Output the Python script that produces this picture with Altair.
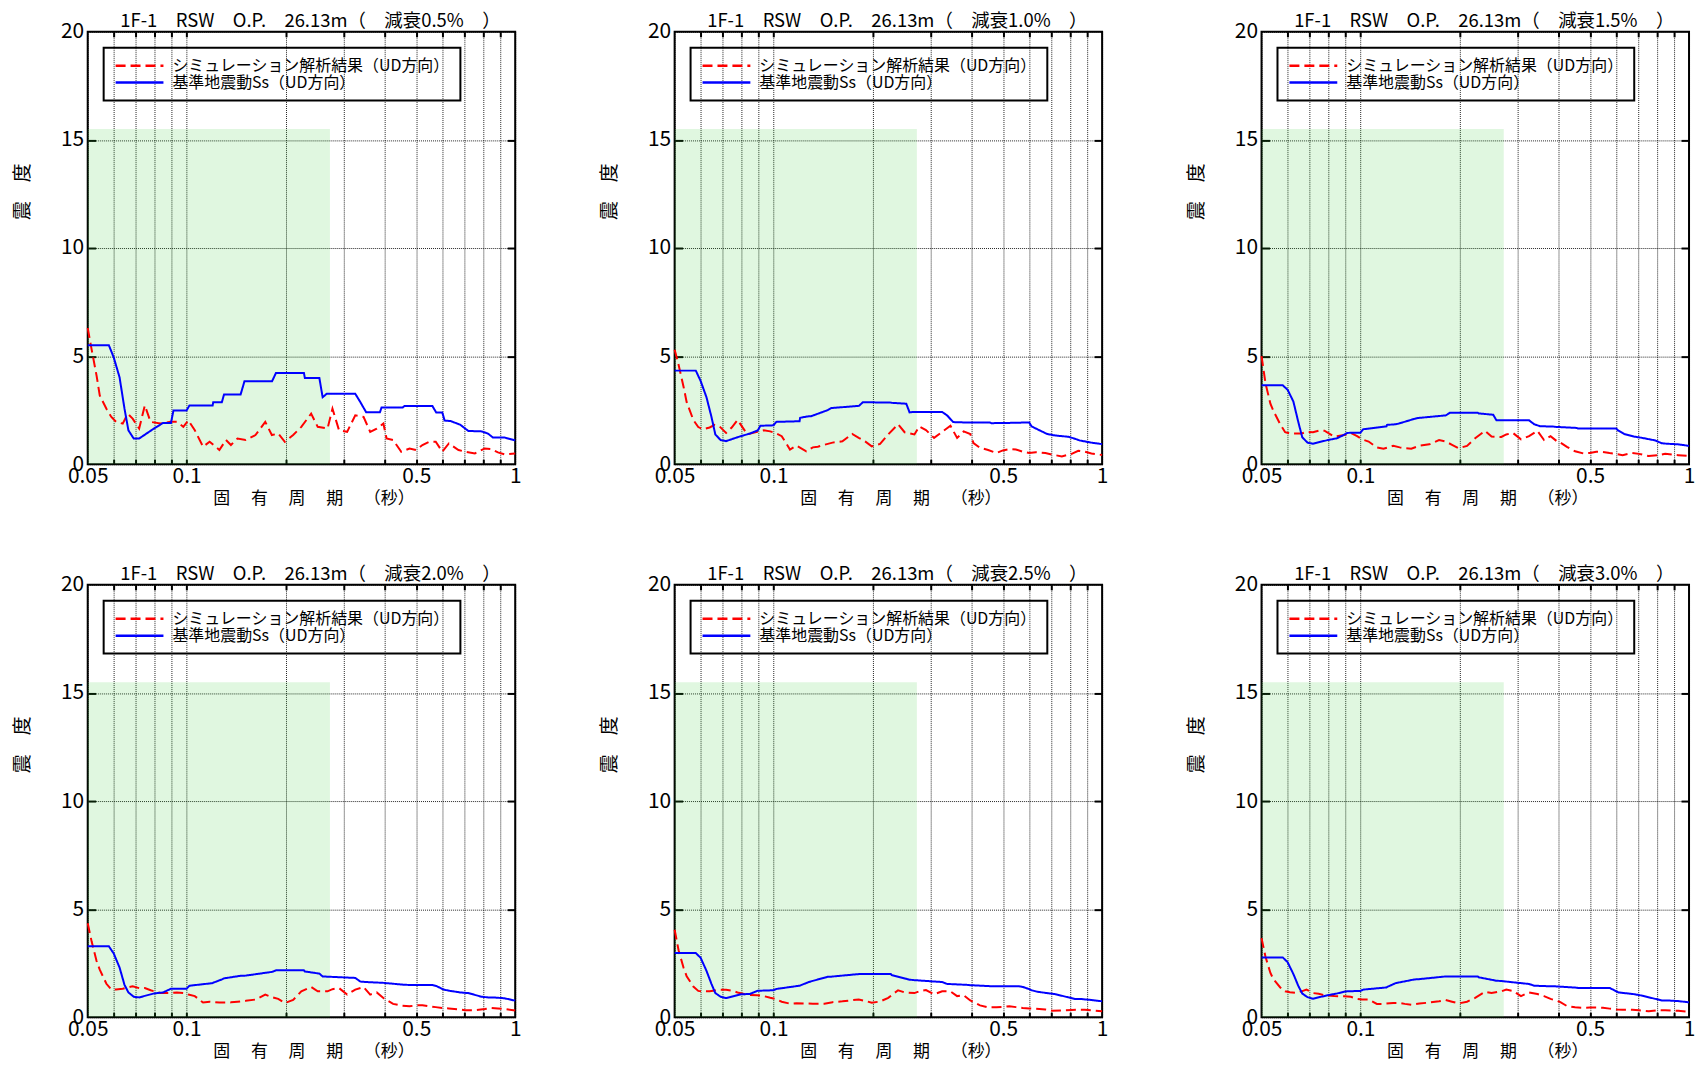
import altair as alt
import pandas as pd

FONT = "Noto Sans CJK JP"

# ---------------- text ----------------
damping = ["0.5", "1.0", "1.5", "2.0", "2.5", "3.0"]
panel_titles = ["1F-1　RSW　O.P.　26.13m（　減衰" + d + "%　）" for d in damping]
SIM = "シミュレーション解析結果（UD方向）"
SS = "基準地震動Ss（UD方向）"
x_title = "固　 有　 周　 期　 （秒）"
y_title = "震　度"

# ---------------- axes ----------------
x_grid_values = [0.05, 0.06, 0.07, 0.08, 0.09, 0.1, 0.2, 0.3, 0.4, 0.5,
                 0.6, 0.7, 0.8, 0.9, 1.0]
x_inner_ticks = [0.06, 0.07, 0.08, 0.09, 0.1, 0.2, 0.3, 0.4, 0.5,
                 0.6, 0.7, 0.8, 0.9]
x_label_values = [0.05, 0.1, 0.5, 1.0]
x_label_texts = ["0.05", "0.1", "0.5", "1"]
y_grid_values = [0, 5, 10, 15, 20]
y_inner_ticks = [5, 10, 15]

# shaded period band (green)
band_x0 = [0.05]
band_x1 = [0.273]
band_y0 = [0]
band_y1 = [15.5]

# ---------------- data ----------------
# 基準地震動Ss (blue)
blue_periods = [0.050, 0.058, 0.060, 0.0625, 0.0647, 0.0665, 0.069, 0.0717,
                0.0795, 0.0848, 0.0896, 0.0912, 0.100, 0.102, 0.120, 0.1205,
                0.128, 0.130, 0.146, 0.150, 0.182, 0.187, 0.2275, 0.229,
                0.2535, 0.2594, 0.267, 0.326, 0.338, 0.352, 0.3875, 0.392,
                0.455, 0.46, 0.56, 0.575, 0.60, 0.61, 0.635, 0.68, 0.72,
                0.79, 0.826, 0.855, 0.927, 1.0]
blue_h05 = [5.5, 5.5, 4.94, 4.02, 2.57, 1.57, 1.19, 1.19, 1.65, 1.91, 1.91,
            2.49, 2.49, 2.72, 2.72, 2.87, 2.87, 3.23, 3.23, 3.84, 3.84, 4.22,
            4.22, 3.99, 3.99, 3.10, 3.26, 3.26, 2.87, 2.40, 2.40, 2.63, 2.63,
            2.69, 2.69, 2.39, 2.39, 2.02, 2.0, 1.83, 1.54, 1.52, 1.42, 1.24,
            1.24, 1.10]
blue_h10 = [4.33, 4.33, 3.85, 3.1, 2.2, 1.38, 1.12, 1.07, 1.30, 1.42, 1.57,
            1.78, 1.80, 1.96, 1.99, 2.15, 2.22, 2.22, 2.50, 2.60, 2.70, 2.87,
            2.85, 2.84, 2.80, 2.40, 2.42, 2.42, 2.25, 1.95, 1.93, 1.93, 1.93,
            1.90, 1.92, 1.93, 1.93, 1.75, 1.62, 1.40, 1.33, 1.27, 1.18, 1.10,
            1.00, 0.93]
blue_h15 = [3.65, 3.65, 3.45, 2.9, 1.95, 1.25, 1.0, 0.95, 1.12, 1.2, 1.38,
            1.45, 1.46, 1.62, 1.75, 1.82, 1.85, 1.87, 2.10, 2.14, 2.26, 2.38,
            2.38, 2.35, 2.29, 2.03, 2.03, 2.03, 1.85, 1.76, 1.74, 1.73, 1.68,
            1.65, 1.65, 1.65, 1.65, 1.55, 1.40, 1.28, 1.22, 1.10, 0.97, 0.95,
            0.92, 0.85]
blue_h20 = [3.28, 3.28, 2.95, 2.3, 1.5, 1.15, 0.95, 0.92, 1.10, 1.15, 1.32,
            1.32, 1.32, 1.46, 1.58, 1.6, 1.75, 1.8, 1.92, 1.92, 2.1, 2.17,
            2.17, 2.12, 2.02, 1.89, 1.88, 1.82, 1.65, 1.63, 1.6, 1.6, 1.51,
            1.50, 1.49, 1.45, 1.31, 1.27, 1.22, 1.15, 1.12, 0.95, 0.92, 0.92,
            0.88, 0.77]
blue_h25 = [2.97, 2.97, 2.75, 2.15, 1.55, 1.12, 0.95, 0.89, 1.06, 1.08, 1.23,
            1.23, 1.25, 1.31, 1.46, 1.47, 1.63, 1.66, 1.87, 1.88, 2.0, 2.0,
            2.0, 1.95, 1.78, 1.74, 1.72, 1.63, 1.54, 1.53, 1.5, 1.49, 1.44,
            1.43, 1.43, 1.40, 1.30, 1.25, 1.18, 1.12, 1.07, 0.92, 0.85, 0.85,
            0.8, 0.74]
blue_h30 = [2.77, 2.77, 2.55, 2.0, 1.45, 1.1, 0.93, 0.86, 1.02, 1.10, 1.19,
            1.2, 1.22, 1.28, 1.38, 1.40, 1.58, 1.60, 1.75, 1.76, 1.89, 1.89,
            1.89, 1.85, 1.72, 1.69, 1.68, 1.54, 1.46, 1.45, 1.43, 1.43, 1.37,
            1.35, 1.35, 1.35, 1.2, 1.15, 1.12, 1.07, 1.0, 0.85, 0.78, 0.78,
            0.75, 0.69]

# シミュレーション解析結果 (red dashed)
red_periods = [0.050, 0.0514, 0.0532, 0.0544, 0.0570, 0.0590, 0.0610, 0.0639,
               0.0662, 0.0685, 0.0717, 0.0746, 0.0777, 0.0832, 0.0892, 0.0934,
               0.0977, 0.1012, 0.1059, 0.1122, 0.1175, 0.1258, 0.1317, 0.1364,
               0.1428, 0.1512, 0.162, 0.1735, 0.1817, 0.190, 0.199, 0.211,
               0.2234, 0.2393, 0.2506, 0.2684, 0.2779, 0.291, 0.308, 0.326,
               0.3455, 0.362, 0.379, 0.397, 0.406, 0.425, 0.450, 0.477, 0.499,
               0.522, 0.547, 0.573, 0.600, 0.628, 0.672, 0.704, 0.754, 0.808,
               0.846, 0.886, 0.928, 1.0]
red_h05 = [6.3, 5.3, 4.1, 3.18, 2.57, 2.19, 1.96, 1.88, 2.34, 2.11, 1.65, 2.72,
           1.96, 1.88, 1.96, 1.96, 1.73, 2.03, 1.57, 0.81, 1.04, 0.66, 1.12,
           0.89, 1.19, 1.12, 1.35, 1.96, 1.35, 1.42, 1.04, 1.35, 1.73, 2.34,
           1.73, 1.65, 2.57, 1.57, 1.50, 2.26, 2.19, 1.50, 1.65, 1.88, 1.19,
           1.12, 0.58, 0.73, 0.66, 0.89, 1.04, 1.04, 0.58, 0.96, 0.66, 0.58,
           0.5, 0.73, 0.70, 0.55, 0.46, 0.5]
red_h10 = [5.3, 4.6, 3.6, 2.87, 2.05, 1.72, 1.62, 1.70, 1.82, 1.75, 1.45, 1.70,
           2.05, 1.38, 1.50, 1.57, 1.52, 1.45, 1.30, 0.68, 0.86, 0.60, 0.78,
           0.81, 0.90, 1.0, 1.06, 1.40, 1.22, 1.06, 0.83, 0.94, 1.38, 1.85,
           1.48, 1.38, 1.75, 1.58, 1.22, 1.50, 1.78, 1.22, 1.52, 1.40, 0.98,
           0.76, 0.66, 0.52, 0.64, 0.70, 0.68, 0.58, 0.52, 0.56, 0.52, 0.45,
           0.36, 0.48, 0.62, 0.58, 0.50, 0.43]
red_h15 = [5.0, 3.75, 2.8, 2.45, 1.85, 1.48, 1.42, 1.42, 1.42, 1.50, 1.48, 1.55,
           1.55, 1.28, 1.35, 1.45, 1.30, 1.15, 1.05, 0.78, 0.72, 0.85, 0.78,
           0.74, 0.72, 0.86, 0.92, 1.12, 1.05, 0.90, 0.74, 0.85, 1.20, 1.55,
           1.28, 1.26, 1.38, 1.45, 1.15, 1.30, 1.55, 1.12, 1.30, 1.05, 1.0,
           0.80, 0.60, 0.50, 0.52, 0.58, 0.57, 0.52, 0.48, 0.42, 0.52, 0.48,
           0.38, 0.42, 0.48, 0.45, 0.42, 0.38]
red_h20 = [4.35, 3.5, 2.6, 2.2, 1.55, 1.28, 1.28, 1.32, 1.38, 1.43, 1.35, 1.35,
           1.25, 1.12, 1.12, 1.15, 1.12, 1.05, 0.98, 0.68, 0.72, 0.68, 0.68,
           0.69, 0.72, 0.76, 0.82, 1.05, 0.93, 0.85, 0.66, 0.80, 1.20, 1.40,
           1.20, 1.20, 1.30, 1.35, 1.05, 1.28, 1.40, 1.05, 1.15, 0.89, 0.80,
           0.62, 0.54, 0.51, 0.55, 0.56, 0.51, 0.47, 0.43, 0.41, 0.37, 0.33,
           0.33, 0.38, 0.43, 0.41, 0.38, 0.31]
red_h25 = [4.05, 3.1, 2.3, 1.9, 1.42, 1.22, 1.2, 1.2, 1.24, 1.28, 1.27, 1.23,
           1.15, 1.04, 1.02, 0.98, 0.90, 0.85, 0.72, 0.63, 0.65, 0.64, 0.63,
           0.63, 0.63, 0.70, 0.74, 0.79, 0.82, 0.76, 0.67, 0.73, 0.90, 1.25,
           1.15, 1.12, 1.20, 1.26, 1.06, 1.20, 1.20, 0.98, 1.02, 0.78, 0.70,
           0.55, 0.46, 0.46, 0.48, 0.51, 0.47, 0.43, 0.41, 0.40, 0.36, 0.30,
           0.32, 0.34, 0.35, 0.35, 0.32, 0.28]
red_h30 = [3.66, 2.8, 2.05, 1.75, 1.38, 1.2, 1.16, 1.13, 1.2, 1.28, 1.12, 1.09,
           1.02, 0.98, 0.97, 0.95, 0.85, 0.82, 0.82, 0.62, 0.62, 0.66, 0.66,
           0.62, 0.58, 0.64, 0.68, 0.74, 0.80, 0.72, 0.64, 0.72, 0.90, 1.18,
           1.12, 1.20, 1.28, 1.22, 0.98, 1.15, 1.08, 0.98, 0.85, 0.76, 0.70,
           0.52, 0.46, 0.44, 0.45, 0.45, 0.44, 0.40, 0.36, 0.35, 0.35, 0.32,
           0.28, 0.33, 0.32, 0.31, 0.30, 0.25]

blue_series = [blue_h05, blue_h10, blue_h15, blue_h20, blue_h25, blue_h30]
red_series = [red_h05, red_h10, red_h15, red_h20, red_h25, red_h30]

# ---------------- helpers ----------------
label_expr = " : ".join(
    f"datum.value == {v} ? '{t}'" for v, t in zip(x_label_values, x_label_texts)
) + " : ''"

PLOT_W = 429
PLOT_H = 434


def legend_params():
    return alt.Legend(
        title=None, orient="top-left", offset=16, padding=10,
        strokeColor="black",
        labelFont=FONT, labelFontSize=16, labelColor="black",
        labelLimit=600, labelOffset=25, rowPadding=1,
        symbolType="M-4,0L4,0", symbolSize=144, symbolOffset=18,
        symbolStrokeWidth=2.5,
    )


def make_panel(i):
    xs = alt.Scale(type="log", domain=[0.05, 1.0], nice=False)
    ys = alt.Scale(domain=[0, 20], nice=False, zero=False)

    color = alt.Color(
        "series:N",
        scale=alt.Scale(domain=[SIM, SS], range=["#ff0000", "#0000ff"]),
        legend=legend_params(),
    )
    dash = alt.StrokeDash(
        "series:N",
        scale=alt.Scale(domain=[SIM, SS], range=[[10, 5], [1, 0]]),
        legend=legend_params(),
    )

    main_x = alt.Axis(
        orient="bottom", values=x_grid_values, labelExpr=label_expr,
        grid=True, gridColor="black", gridDash=[1, 1], gridWidth=1,
        gridOpacity=0.85, ticks=False, domain=False,
        labelFont=FONT, labelFontSize=21, labelColor="black",
        labelPadding=1, labelOverlap=False, labelFlush=False, labelBound=False,
        title=x_title, titleFont=FONT, titleFontSize=17,
        titleFontWeight="normal", titleColor="black", titlePadding=4,
        titleX=PLOT_W / 2 + 12,
    )
    main_y = alt.Axis(
        orient="left", values=y_grid_values,
        grid=True, gridColor="black", gridDash=[1, 1], gridWidth=1,
        gridOpacity=0.85, ticks=False, domain=False,
        labelFont=FONT, labelFontSize=21, labelColor="black",
        labelPadding=4, labelOverlap=False, labelFlush=False,
        title=y_title, titleFont=FONT, titleFontSize=19,
        titleFontWeight="normal", titleColor="black", titleAngle=270,
        titleX=-65, titleY=160, titleAlign="center", titleBaseline="middle",
    )

    def tick_axis(orient, values, size):
        return alt.Axis(
            orient=orient, values=values, offset=-size, tickSize=size,
            tickWidth=2, tickColor="black", labels=False, domain=False,
            grid=False, title=None, minExtent=0, maxExtent=0,
        )

    band_df = pd.DataFrame({"x0": band_x0, "x1": band_x1,
                            "y0": band_y0, "y1": band_y1})
    red_df = pd.DataFrame({"period": red_periods, "value": red_series[i],
                           "series": SIM})
    blue_df = pd.DataFrame({"period": blue_periods, "value": blue_series[i],
                            "series": SS})

    band = alt.Chart(band_df).mark_rect(fill="#2ecc2e", opacity=0.15).encode(
        x=alt.X("x0:Q", scale=xs, axis=main_x),
        x2="x1:Q",
        y=alt.Y("y0:Q", scale=ys, axis=main_y),
        y2="y1:Q",
    )
    red = alt.Chart(red_df).mark_line(strokeWidth=2).encode(
        x=alt.X("period:Q", scale=xs, axis=tick_axis("top", x_inner_ticks, 5)),
        y=alt.Y("value:Q", scale=ys, axis=tick_axis("right", y_inner_ticks, 8)),
        color=color, strokeDash=dash,
    )
    blue = alt.Chart(blue_df).mark_line(strokeWidth=2).encode(
        x=alt.X("period:Q", scale=xs, axis=tick_axis("bottom", x_inner_ticks, 5)),
        y=alt.Y("value:Q", scale=ys, axis=tick_axis("left", y_inner_ticks, 8)),
        color=color, strokeDash=dash,
    )
    return alt.layer(band, red, blue).resolve_axis(
        x="independent", y="independent"
    ).properties(
        width=PLOT_W, height=PLOT_H,
        title=alt.TitleParams(
            panel_titles[i], font=FONT, fontSize=18.5, fontWeight="normal",
            color="black", anchor="middle", offset=-10, frame="group", dx=9,
        ),
    )


panels = [make_panel(i) for i in range(6)]

row1 = alt.hconcat(*panels[:3], spacing=78).resolve_scale(
    color="independent", strokeDash="independent")
row2 = alt.hconcat(*panels[3:], spacing=78).resolve_scale(
    color="independent", strokeDash="independent")

chart = alt.vconcat(row1, row2, spacing=57).resolve_scale(
    color="independent", strokeDash="independent"
).properties(
    padding={"left": 5, "top": 1, "right": 0, "bottom": 0},
    background="white",
).configure_view(
    stroke="black", strokeWidth=2,
).configure_legend(
    strokeWidth=2,
)

chart.save("out.html", embed_options={"renderer": "svg", "actions": False})
